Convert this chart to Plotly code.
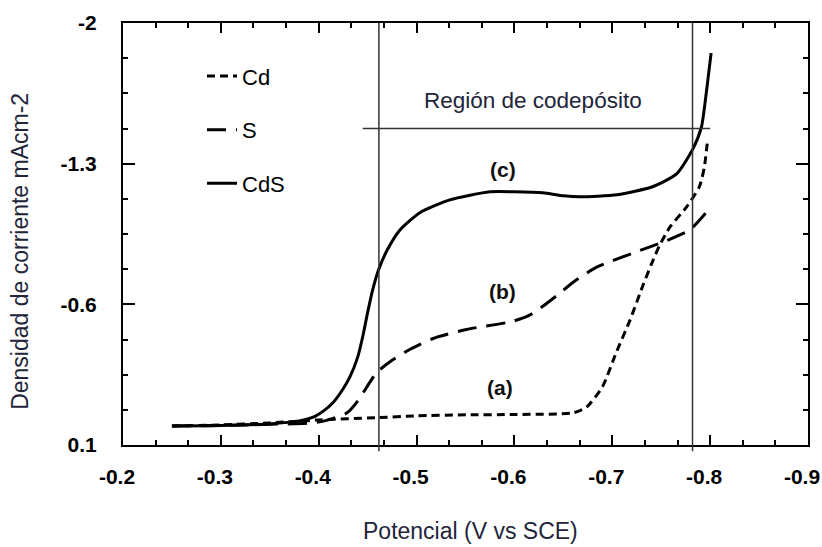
import plotly.graph_objects as go

# ---- data ----
cds_x = [-0.25, -0.30, -0.35, -0.38, -0.395, -0.405, -0.4145, -0.425, -0.432, -0.440, -0.445,
         -0.450, -0.455, -0.461, -0.470, -0.483, -0.503, -0.534, -0.575, -0.600, -0.629,
         -0.650, -0.667, -0.705, -0.741, -0.766, -0.782, -0.791, -0.796, -0.801]
cds_y = [0.005, 0.003, -0.005, -0.02, -0.04, -0.07, -0.11, -0.18, -0.24, -0.34, -0.44,
         -0.56, -0.67, -0.77, -0.87, -0.97, -1.055, -1.12, -1.16, -1.16, -1.155,
         -1.14, -1.135, -1.145, -1.185, -1.25, -1.37, -1.48, -1.65, -1.85]

s_x = [-0.25, -0.30, -0.35, -0.394, -0.41, -0.429, -0.44, -0.452, -0.459, -0.476, -0.493,
       -0.517, -0.551, -0.598, -0.615, -0.629, -0.645, -0.66, -0.684, -0.721, -0.752,
       -0.779, -0.80]
s_y = [0.005, 0.003, -0.003, -0.01, -0.025, -0.06, -0.12, -0.21, -0.26, -0.325, -0.375,
       -0.43, -0.475, -0.515, -0.545, -0.59, -0.65, -0.71, -0.785, -0.855, -0.91,
       -0.97, -1.08]

cd_x = [-0.25, -0.30, -0.35, -0.40, -0.459, -0.50, -0.551, -0.60, -0.66, -0.674, -0.69,
        -0.704, -0.718, -0.731, -0.740, -0.748, -0.759, -0.776, -0.789, -0.794, -0.797]
cd_y = [0.005, 0.0, -0.01, -0.025, -0.036, -0.045, -0.05, -0.052, -0.06, -0.09, -0.19,
        -0.36, -0.52, -0.69, -0.80, -0.89, -0.985, -1.085, -1.185, -1.28, -1.40]

series_names = ["Cd", "S", "CdS"]

x_tick_vals = [-0.2, -0.3, -0.4, -0.5, -0.6, -0.7, -0.8, -0.9]
x_tick_text = ["-0.2", "-0.3", "-0.4", "-0.5", "-0.6", "-0.7", "-0.8", "-0.9"]
y_tick_vals = [-2, -1.3, -0.6, 0.1]
y_tick_text = ["-2", "-1.3", "-0.6", "0.1"]

v_lines = [-0.4615, -0.782]          # region boundaries
h_line_y = -1.475                     # codeposition line level
h_line_x = [-0.445, -0.80]

curve_labels = ["(a)", "(b)", "(c)"]
curve_label_x = [-0.585, -0.588, -0.588]
curve_label_y = [-0.186, -0.663, -1.269]

region_text = "Región de codepósito"
region_text_xy = (-0.619, -1.616)

x_title = "Potencial (V vs SCE)"
y_title = "Densidad de corriente mAcm-2"

# ---- figure ----
FONT = "Liberation Sans, Arial, sans-serif"
TITLE_COLOR = "#22243a"

fig = go.Figure()
line_w = 3
fig.add_trace(go.Scatter(x=cd_x, y=cd_y, mode="lines", name=series_names[0], legendgroup="a",
                         line=dict(color="black", width=line_w, dash="8px,5px", shape="spline", smoothing=0.6)))
fig.add_trace(go.Scatter(x=s_x, y=s_y, mode="lines", name=series_names[1], legendgroup="b",
                         line=dict(color="black", width=line_w, dash="19px,10px", shape="spline", smoothing=0.6)))
fig.add_trace(go.Scatter(x=cds_x, y=cds_y, mode="lines", name=series_names[2], legendgroup="c",
                         line=dict(color="black", width=line_w, shape="spline", smoothing=0.6)))

shapes = []
for xv in v_lines:
    shapes.append(dict(type="line", xref="x", yref="paper", x0=xv, x1=xv, y0=-0.015, y1=1,
                       line=dict(color="#333333", width=1.5)))
shapes.append(dict(type="line", xref="x", yref="y", x0=h_line_x[0], x1=h_line_x[1],
                   y0=h_line_y, y1=h_line_y, line=dict(color="#333333", width=1.5)))

annotations = []
for t, ax_, ay_ in zip(curve_labels, curve_label_x, curve_label_y):
    annotations.append(dict(x=ax_, y=ay_, text=t, showarrow=False, xref="x", yref="y",
                            xanchor="center", yanchor="middle",
                            font=dict(family=FONT, size=21, color="#111111", weight="bold")))
annotations.append(dict(x=region_text_xy[0], y=region_text_xy[1], text=region_text, showarrow=False,
                        xref="x", yref="y", xanchor="center", yanchor="middle",
                        font=dict(family=FONT, size=22.5, color=TITLE_COLOR)))
annotations.append(dict(x=(471 - 123) / 685, y=-(532 - 445.5) / 422.8, xref="paper", yref="paper",
                        text=x_title, showarrow=False, xanchor="center", yanchor="middle",
                        font=dict(family=FONT, size=23, color=TITLE_COLOR)))
annotations.append(dict(x=-(123 - 20) / 685, y=1 - (252 - 22.7) / 422.8, xref="paper", yref="paper",
                        text=y_title, showarrow=False, textangle=-90,
                        xanchor="center", yanchor="middle",
                        font=dict(family=FONT, size=23, color=TITLE_COLOR)))

axis_common = dict(showline=True, linecolor="black", linewidth=2, mirror="allticks",
                   ticks="inside", tickcolor="black", tickwidth=2, showgrid=False, zeroline=False,
                   ticklabeloverflow="allow", automargin=False,
                   tickfont=dict(family=FONT, size=21, color="black", weight="bold"))

fig.update_layout(
    width=822, height=547,
    margin=dict(l=123, r=14, t=23, b=101.5),
    paper_bgcolor="white", plot_bgcolor="white",
    showlegend=True,
    legend=dict(x=(202 - 123) / 685, y=1 - (55 - 22.7) / 422.8, xanchor="left", yanchor="top",
                bgcolor="rgba(0,0,0,0)", tracegroupgap=22,
                font=dict(family=FONT, size=22, color="black")),
    xaxis=dict(range=[-0.19999, -0.90001], tickvals=x_tick_vals, ticktext=x_tick_text, ticklen=10,
               ticklabelstandoff=12, ticklabelshift=6,
               minor=dict(ticks="inside", ticklen=5, tickwidth=1.5, tickcolor="black",
                          dtick=0.1 / 3, tick0=-0.2, showgrid=False),
               **axis_common),
    yaxis=dict(range=[0.1, -2], tickvals=y_tick_vals, ticktext=y_tick_text, ticklen=12,
               ticklabelstandoff=20,
               minor=dict(ticks="inside", ticklen=5, tickwidth=1.5, tickcolor="black",
                          dtick=0.175, tick0=0.1, showgrid=False),
               **axis_common),
    shapes=shapes,
    annotations=annotations,
)

fig.write_html("out.html")
